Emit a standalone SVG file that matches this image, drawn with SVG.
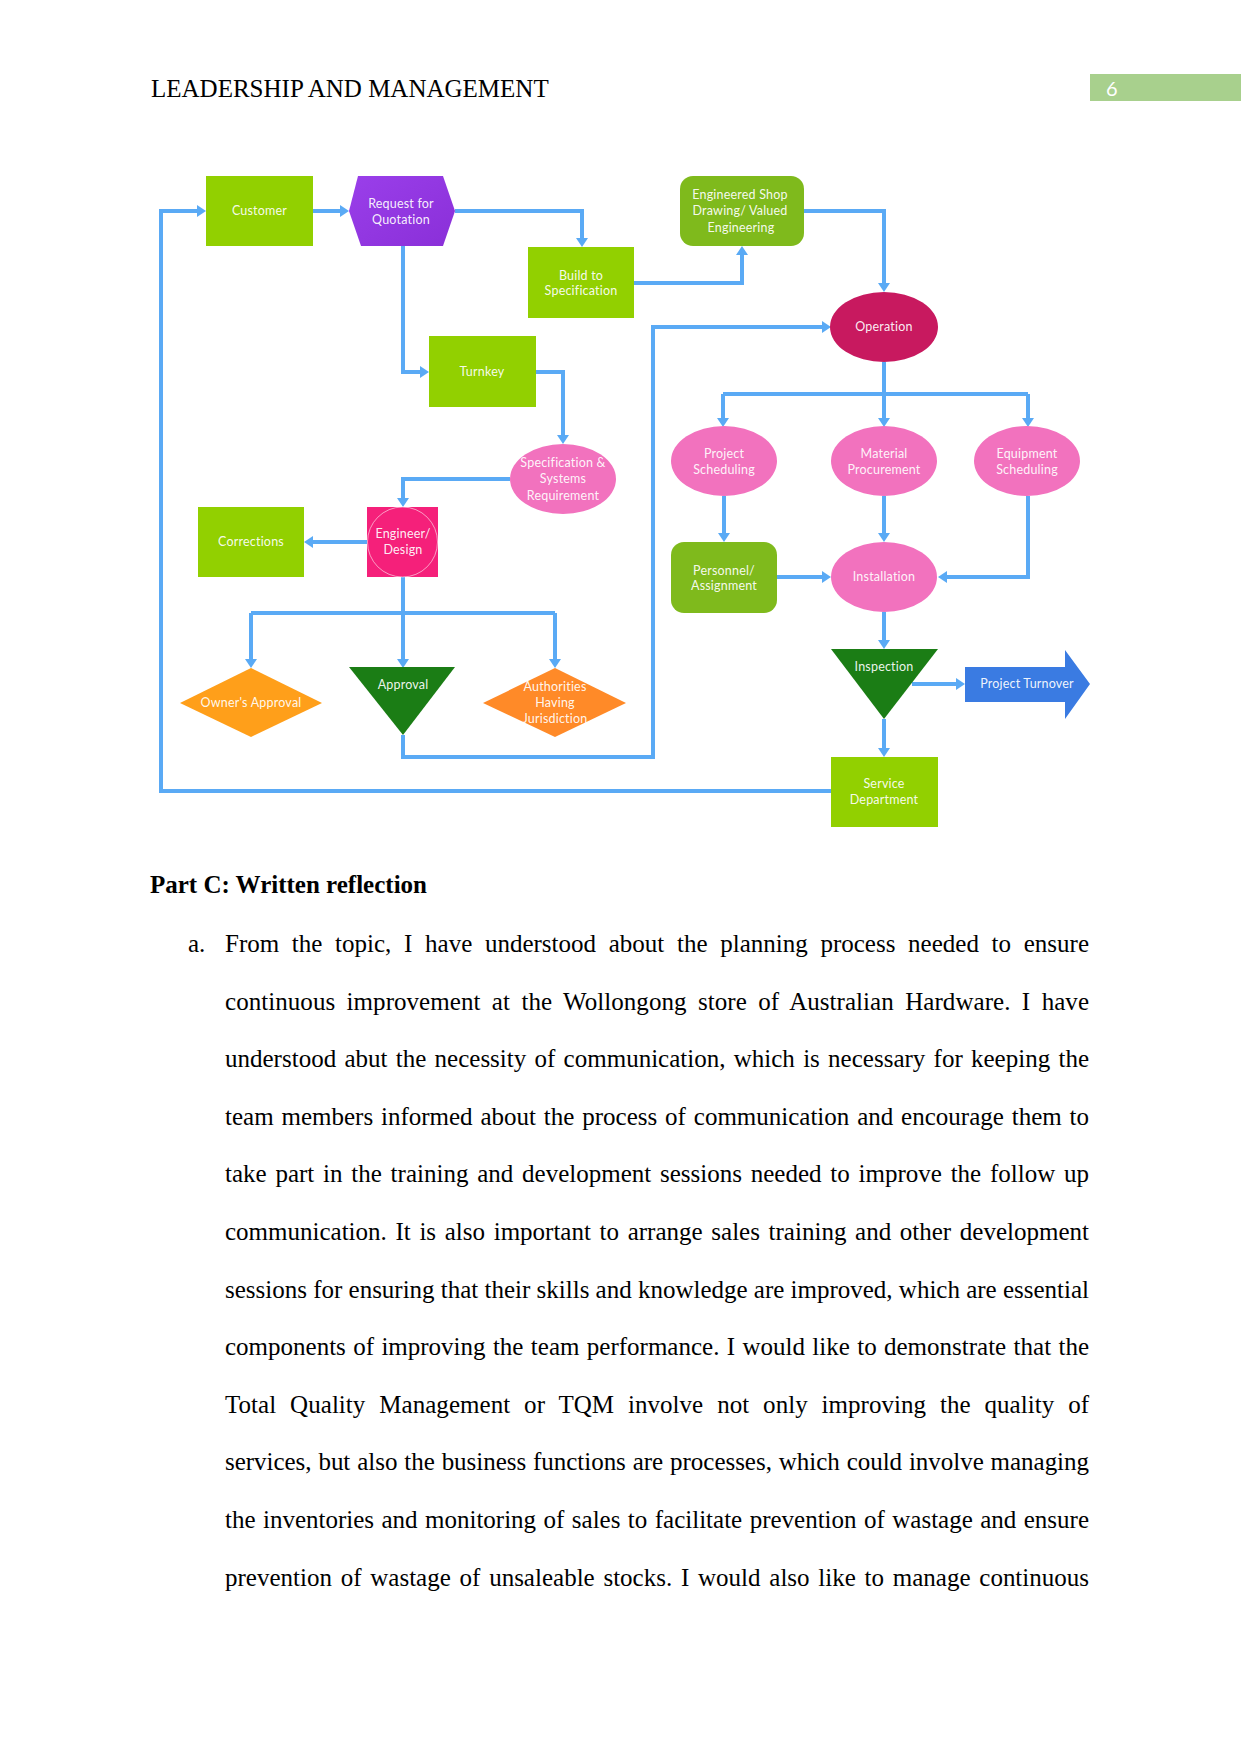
<svg xmlns="http://www.w3.org/2000/svg" width="1241" height="1754" viewBox="0 0 1241 1754">
<defs>
<marker id="ah" viewBox="0 0 9 12" refX="5" refY="6" markerWidth="9" markerHeight="12" markerUnits="userSpaceOnUse" orient="auto">
<path d="M0,0 L9,6 L0,12 z" fill="#5AAAF5"/>
</marker>
<linearGradient id="purp" x1="0" y1="0" x2="1" y2="1">
<stop offset="0" stop-color="#9A3FEA"/><stop offset="1" stop-color="#8A2FD8"/>
</linearGradient>
</defs>
<style>
.c{fill:none;stroke:#5AAAF5;stroke-width:4;stroke-linejoin:miter}
.a{marker-end:url(#ah)}
.t{font-family:Lato,"Liberation Sans",sans-serif;font-size:12.5px;letter-spacing:0.2px;fill:#FFFFFF;fill-opacity:0.93;text-anchor:middle}
.lime{fill:#92D000}
.dg{fill:#7FBA1C}
.pink{fill:#F272BE}
.tri{fill:#1B7D15}
.body{font-family:"Liberation Serif","Times New Roman",serif;font-size:25px;fill:#000}
</style>
<rect width="1241" height="1754" fill="#FFFFFF"/>

<!-- header -->
<text class="body" x="151" y="97">LEADERSHIP AND MANAGEMENT</text>
<rect x="1090" y="74" width="151" height="27" fill="#A8D08D"/>
<text x="1106" y="96" font-family="Lato,'Liberation Sans',sans-serif" font-size="20" fill="#FFFFFF">6</text>

<!-- connectors -->
<g id="connectors">
<path class="c a" d="M831,791 H161 V211 H202"/>
<path class="c a" d="M313,211 H345"/>
<path class="c a" d="M455,211 H582 V243"/>
<path class="c a" d="M403,246 V372 H425"/>
<path class="c a" d="M634,283 H742 V250"/>
<path class="c a" d="M804,211 H884 V288"/>
<path class="c a" d="M536,372 H563 V440"/>
<path class="c a" d="M510,479 H403 V503"/>
<path class="c a" d="M367,542 H308"/>
<path class="c a" d="M403,577 V664"/>
<path class="c" d="M251,613 H555"/>
<path class="c a" d="M251,613 V664"/>
<path class="c a" d="M555,613 V664"/>
<path class="c a" d="M403,735 V757 H653 V327 H827"/>
<path class="c a" d="M884,362 V423"/>
<path class="c" d="M723,394 H1028"/>
<path class="c a" d="M723,394 V423"/>
<path class="c a" d="M1028,394 V423"/>
<path class="c a" d="M724,496 V538"/>
<path class="c a" d="M884,496 V538"/>
<path class="c a" d="M1028,496 V577 H942"/>
<path class="c a" d="M777,577 H827"/>
<path class="c a" d="M884,612 V645"/>
<path class="c a" d="M912,684 H961"/>
<path class="c a" d="M884,719 V753"/>
</g>

<!-- nodes -->
<g id="customer">
<rect class="lime" x="206" y="176" width="107" height="70"/>
<text class="t" x="259.5" y="215">Customer</text>
</g>
<g id="rfq">
<polygon points="358,176 443,176 455,211 443,246 361,246 349,211" fill="url(#purp)"/>
<text class="t" x="401" y="208">Request for</text>
<text class="t" x="401" y="224">Quotation</text>
</g>
<g id="build">
<rect class="lime" x="528" y="247" width="106" height="71"/>
<text class="t" x="581" y="280">Build to</text>
<text class="t" x="581" y="295">Specification</text>
</g>
<g id="turnkey">
<rect class="lime" x="429" y="336" width="107" height="71"/>
<text class="t" x="482" y="376">Turnkey</text>
</g>
<g id="engshop">
<rect class="dg" x="680" y="176" width="124" height="70" rx="13" ry="13"/>
<text class="t" x="740" y="199">Engineered Shop</text>
<text class="t" x="740" y="215">Drawing/ Valued</text>
<text class="t" x="741" y="232">Engineering</text>
</g>
<g id="operation">
<ellipse cx="884" cy="327" rx="54" ry="35" fill="#C8195F"/>
<text class="t" x="884" y="331">Operation</text>
</g>
<g id="specsys">
<ellipse class="pink" cx="563" cy="479" rx="53" ry="35"/>
<text class="t" x="563" y="467">Specification &amp;</text>
<text class="t" x="563" y="483">Systems</text>
<text class="t" x="563" y="500">Requirement</text>
</g>
<g id="engineer">
<rect x="367" y="507" width="71" height="70" fill="#F5207A"/>
<circle cx="402.5" cy="542" r="35" fill="none" stroke="#FFFFFF" stroke-opacity="0.7" stroke-width="0.8"/>
<text class="t" x="403" y="538">Engineer/</text>
<text class="t" x="403" y="554">Design</text>
</g>
<g id="corrections">
<rect class="lime" x="198" y="507" width="106" height="70"/>
<text class="t" x="251" y="546">Corrections</text>
</g>
<g id="owners">
<polygon points="251,668 322,703 251,737 180,703" fill="#FF9F1A"/>
<text class="t" x="251" y="707">Owner's Approval</text>
</g>
<g id="approval">
<polygon class="tri" points="349,667 455,667 403,735"/>
<text class="t" x="403" y="689">Approval</text>
</g>
<g id="authorities">
<polygon points="555,668 626,703 555,737 483,703" fill="#FF8A28"/>
<text class="t" x="555" y="691">Authorities</text>
<text class="t" x="555" y="707">Having</text>
<text class="t" x="555" y="723">Jurisdiction</text>
</g>
<g id="projsched">
<ellipse class="pink" cx="724" cy="461" rx="53" ry="35"/>
<text class="t" x="724" y="458">Project</text>
<text class="t" x="724" y="474">Scheduling</text>
</g>
<g id="material">
<ellipse class="pink" cx="884" cy="461" rx="53" ry="35"/>
<text class="t" x="884" y="458">Material</text>
<text class="t" x="884" y="474">Procurement</text>
</g>
<g id="equipment">
<ellipse class="pink" cx="1027" cy="461" rx="53" ry="35"/>
<text class="t" x="1027" y="458">Equipment</text>
<text class="t" x="1027" y="474">Scheduling</text>
</g>
<g id="personnel">
<rect class="dg" x="671" y="542" width="106" height="71" rx="13" ry="13"/>
<text class="t" x="724" y="575">Personnel/</text>
<text class="t" x="724" y="590">Assignment</text>
</g>
<g id="installation">
<ellipse class="pink" cx="884" cy="577" rx="53" ry="35"/>
<text class="t" x="884" y="581">Installation</text>
</g>
<g id="inspection">
<polygon class="tri" points="831,649 938,649 884,719"/>
<text class="t" x="884" y="671">Inspection</text>
</g>
<g id="turnover">
<polygon points="965,667 1065,667 1065,650 1090,684 1065,719 1065,702 965,702" fill="#3A7BE2"/>
<text class="t" x="1027" y="688">Project Turnover</text>
</g>
<g id="service">
<rect class="lime" x="831" y="757" width="107" height="70"/>
<text class="t" x="884" y="788">Service</text>
<text class="t" x="884" y="804">Department</text>
</g>

<!-- body text -->
<text class="body" x="150" y="893" font-weight="bold">Part C: Written reflection</text>
<text class="body" x="188" y="952">a.</text>
<text class="body" x="225" y="952" word-spacing="6.4" textLength="864" lengthAdjust="spacing">From the topic, I have understood about the planning process needed to ensure</text>
<text class="body" x="225" y="1009.6" word-spacing="5.1" textLength="864" lengthAdjust="spacing">continuous improvement at the Wollongong store of Australian Hardware. I have</text>
<text class="body" x="225" y="1067.2" word-spacing="2" textLength="864" lengthAdjust="spacing">understood abut the necessity of communication, which is necessary for keeping the</text>
<text class="body" x="225" y="1124.8" word-spacing="1.6" textLength="864" lengthAdjust="spacing">team members informed about the process of communication and encourage them to</text>
<text class="body" x="225" y="1182.4" word-spacing="2.5" textLength="864" lengthAdjust="spacing">take part in the training and development sessions needed to improve the follow up</text>
<text class="body" x="225" y="1240" word-spacing="2.4" textLength="864" lengthAdjust="spacing">communication. It is also important to arrange sales training and other development</text>
<text class="body" x="225" y="1297.6" textLength="864" lengthAdjust="spacing">sessions for ensuring that their skills and knowledge are improved, which are essential</text>
<text class="body" x="225" y="1355.2" word-spacing="1.1" textLength="864" lengthAdjust="spacing">components of improving the team performance. I would like to demonstrate that the</text>
<text class="body" x="225" y="1412.8" word-spacing="7.6" textLength="864" lengthAdjust="spacing">Total Quality Management or TQM involve not only improving the quality of</text>
<text class="body" x="225" y="1470.4" word-spacing="0.7" textLength="864" lengthAdjust="spacing">services, but also the business functions are processes, which could involve managing</text>
<text class="body" x="225" y="1528" word-spacing="1.2" textLength="864" lengthAdjust="spacing">the inventories and monitoring of sales to facilitate prevention of wastage and ensure</text>
<text class="body" x="225" y="1585.6" word-spacing="2.5" textLength="864" lengthAdjust="spacing">prevention of wastage of unsaleable stocks. I would also like to manage continuous</text>
</svg>
